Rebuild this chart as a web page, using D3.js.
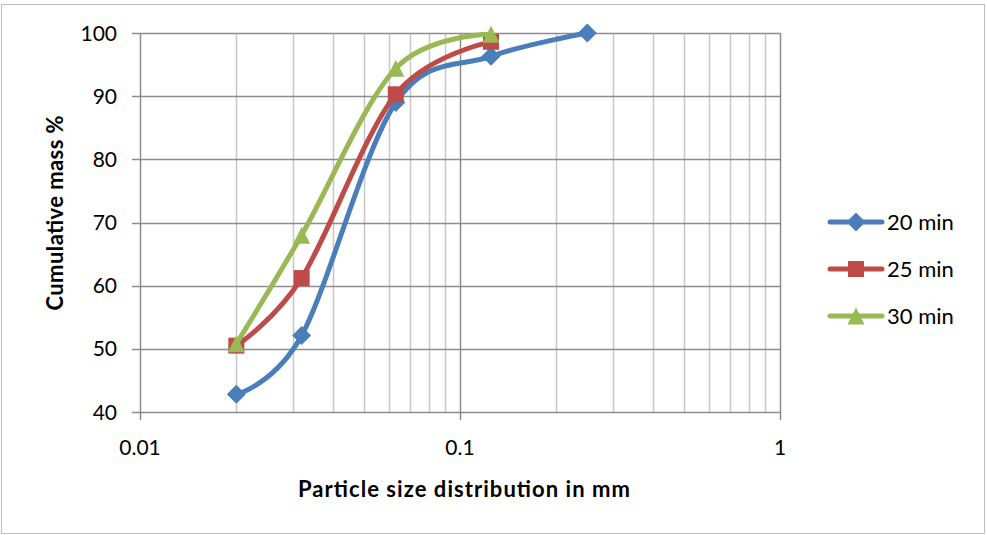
<!DOCTYPE html>
<html>
<head>
<meta charset="utf-8">
<script src="https://cdn.jsdelivr.net/npm/d3@7"></script>
<style>
  body { margin: 0; background: #fff; }
  text { font-family: Lato, "Open Sans", sans-serif; fill: #000; }
</style>
</head>
<body>
<svg id="chart" width="987" height="535"></svg>
<script>
// particle sizes in mm (sieve sizes)
const sizes = [0.02, 0.032, 0.063, 0.125, 0.25];
// cumulative mass % per grinding time
const mass20 = [42.8, 52.1, 89.0, 96.3, 100];
const mass25 = [50.5, 61.2, 90.3, 98.6];
const mass30 = [50.8, 68.0, 94.4, 99.8];
const seriesNames = ["20 min", "25 min", "30 min"];
const yTicks = [40, 50, 60, 70, 80, 90, 100];
const xTicks = [0.01, 0.1, 1];

const colors = ["#4a7ebb", "#be4b48", "#98b954"];

// excel-like marker shapes (size = half width in px)
const diamond = {
  draw(ctx, r) {
    ctx.moveTo(0, -r); ctx.lineTo(r, 0); ctx.lineTo(0, r); ctx.lineTo(-r, 0); ctx.closePath();
  }
};
const square = {
  draw(ctx, r) { ctx.rect(-r, -r, 2 * r, 2 * r); }
};
const triangle = {
  draw(ctx, r) {
    ctx.moveTo(0, -r); ctx.lineTo(r, r); ctx.lineTo(-r, r); ctx.closePath();
  }
};
const symbols = [diamond, square, triangle];
const symbolSizes = [9.5, 8, 8.5];

const series = [mass20, mass25, mass30].map((vals, i) => ({
  name: seriesNames[i],
  points: vals.map((v, j) => ({ x: sizes[j], y: v }))
}));

const svg = d3.select("#chart");
const plot = { left: 140, right: 780, top: 33, bottom: 412 };

// outer chart frame
svg.append("rect")
  .attr("x", 1.5).attr("y", 4.5)
  .attr("width", 983).attr("height", 529)
  .attr("fill", "none")
  .attr("stroke", "#bfbfbf")
  .attr("stroke-width", 1);

const x = d3.scaleLog().domain([0.01, 1]).range([plot.left, plot.right]);
const y = d3.scaleLinear().domain([40, 100]).range([plot.bottom, plot.top]);

// minor vertical grid (2..9 per decade)
const minor = [];
[0.01, 0.1].forEach((d) => {
  for (let k = 2; k <= 9; k++) minor.push(d * k);
});
svg.append("g")
  .selectAll("line")
  .data(minor)
  .join("line")
  .attr("x1", (d) => Math.round(x(d)) + 0.5)
  .attr("x2", (d) => Math.round(x(d)) + 0.5)
  .attr("y1", plot.top)
  .attr("y2", plot.bottom)
  .attr("stroke", "#c6c6c6")
  .attr("stroke-width", 1.5);

// major vertical grid
svg.append("g")
  .selectAll("line")
  .data(xTicks)
  .join("line")
  .attr("x1", (d) => Math.round(x(d)) + 0.5)
  .attr("x2", (d) => Math.round(x(d)) + 0.5)
  .attr("y1", plot.top)
  .attr("y2", plot.bottom + 8)
  .attr("stroke", "#8c8c8c")
  .attr("stroke-width", 1.5);

// horizontal grid + y ticks
svg.append("g")
  .selectAll("line")
  .data(yTicks)
  .join("line")
  .attr("x1", plot.left - 8)
  .attr("x2", plot.right)
  .attr("y1", (d) => Math.round(y(d)) + 0.5)
  .attr("y2", (d) => Math.round(y(d)) + 0.5)
  .attr("stroke", "#8c8c8c")
  .attr("stroke-width", 1.5);

// y tick labels
svg.append("g")
  .selectAll("text")
  .data(yTicks)
  .join("text")
  .attr("x", 117)
  .attr("y", (d) => y(d))
  .attr("dy", "0.36em")
  .attr("text-anchor", "end")
  .style("font-size", "21px")
  .text((d) => d);

// x tick labels
svg.append("g")
  .selectAll("text")
  .data(xTicks)
  .join("text")
  .attr("x", (d) => x(d))
  .attr("y", 455)
  .attr("text-anchor", "middle")
  .style("font-size", "21px")
  .text((d) => d);

// axis titles
svg.append("text")
  .attr("x", 464)
  .attr("y", 497)
  .attr("text-anchor", "middle")
  .attr("textLength", 332)
  .style("font-size", "22px")
  .style("font-weight", "bold")
  .text("Particle size distribution in mm");

svg.append("text")
  .attr("transform", "translate(63,213) rotate(-90)")
  .attr("text-anchor", "middle")
  .attr("textLength", 195)
  .style("font-size", "22px")
  .style("font-weight", "bold")
  .text("Cumulative mass %");

// curves (smoothed like a spreadsheet chart)
const line = d3.line()
  .x((d) => x(d.x))
  .y((d) => y(d.y))
  .curve(d3.curveCardinal.tension(0));

const seriesG = svg.append("g")
  .selectAll("g")
  .data(series)
  .join("g");

seriesG.append("path")
  .attr("d", (d) => line(d.points))
  .attr("fill", "none")
  .attr("stroke", (d, i) => colors[i])
  .attr("stroke-width", 5)
  .attr("stroke-linejoin", "round")
  .attr("stroke-linecap", "round");

seriesG.each(function (d, i) {
  d3.select(this)
    .selectAll("path.marker")
    .data(d.points)
    .join("path")
    .attr("class", "marker")
    .attr("transform", (p) => `translate(${x(p.x)},${y(p.y)})`)
    .attr("d", d3.symbol().type(symbols[i]).size(symbolSizes[i]))
    .attr("fill", colors[i]);
});

// legend
const legend = svg.append("g")
  .selectAll("g")
  .data(series)
  .join("g")
  .attr("transform", (d, i) => `translate(828,${222 + i * 47})`);

legend.append("line")
  .attr("x1", 2).attr("x2", 54)
  .attr("y1", 0).attr("y2", 0)
  .attr("stroke", (d, i) => colors[i])
  .attr("stroke-width", 5)
  .attr("stroke-linecap", "round");

legend.append("path")
  .attr("transform", "translate(28,0)")
  .attr("d", (d, i) => d3.symbol().type(symbols[i]).size(symbolSizes[i])())
  .attr("fill", (d, i) => colors[i]);

legend.append("text")
  .attr("x", 59)
  .attr("y", 0)
  .attr("dy", "0.36em")
  .style("font-size", "22px")
  .text((d) => d.name);
</script>
</body>
</html>
